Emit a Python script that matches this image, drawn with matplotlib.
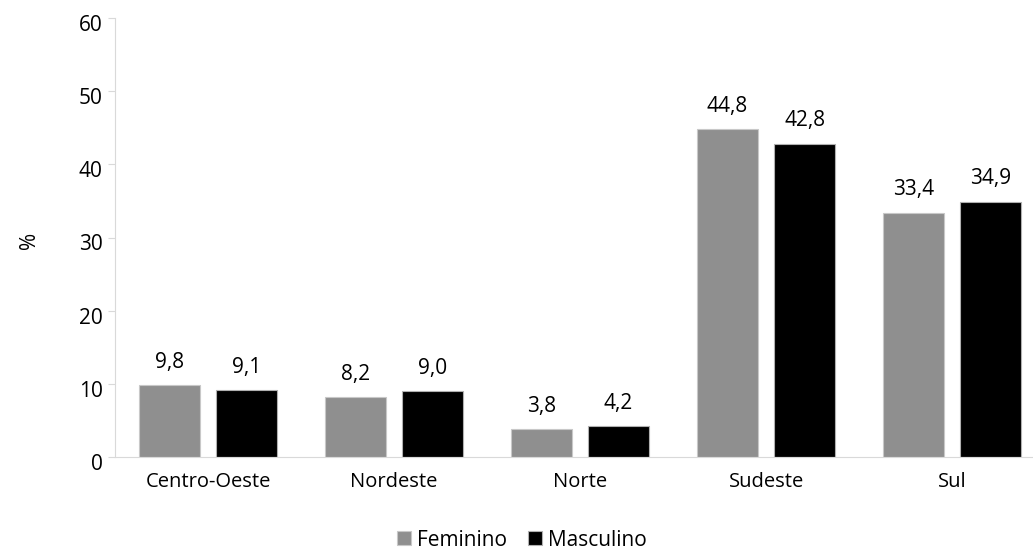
import matplotlib.pyplot as plt
import matplotlib.transforms as mtransforms
import numpy as np

plt.rcParams['font.family'] = ['Open Sans', 'DejaVu Sans']

# data
regioes = ["Centro-Oeste", "Nordeste", "Norte", "Sudeste", "Sul"]
feminino = [9.8, 8.2, 3.8, 44.8, 33.4]
masculino = [9.1, 9.0, 4.2, 42.8, 34.9]

fig = plt.figure(figsize=(10.33, 5.51), dpi=100)
ax = fig.add_axes([115 / 1033, 94 / 551, 918 / 1033, 439 / 551])

x = np.arange(len(regioes))
off = 0.207
w = 0.33
b1 = ax.bar(x - off, feminino, w, color="#8f8f8f", edgecolor="#c8c8c8", linewidth=0.8, label="Feminino")
b2 = ax.bar(x + off, masculino, w, color="black", edgecolor="#b0b0b0", linewidth=0.8, label="Masculino")

# value labels with comma decimal
for bars, vals in [(b1, feminino), (b2, masculino)]:
    for r, v in zip(bars, vals):
        ax.annotate(f"{v:.1f}".replace(".", ","), (r.get_x() + r.get_width() / 2, v),
                    xytext=(0, 9), textcoords="offset points", ha="center", va="bottom", fontsize=15)

ax.set_xlim(-0.5, 4.435)
ax.set_ylim(0, 60)
ax.set_yticks(range(0, 61, 10))
ax.set_xticks(x)
ax.set_xticklabels(regioes)
ax.tick_params(axis="y", length=5, color="#d9d9d9", labelsize=15, pad=4)
ax.tick_params(axis="x", length=0, labelsize=14.5, pad=11)

# y tick labels sit a little below their ticks in the original
shift = mtransforms.ScaledTranslation(0, -5 / 100, fig.dpi_scale_trans)
for lab in ax.get_yticklabels():
    lab.set_transform(lab.get_transform() + shift)

for s in ["top", "right"]:
    ax.spines[s].set_visible(False)
ax.spines["left"].set_color("#d9d9d9")
ax.spines["bottom"].set_color("#d9d9d9")

fig.text(30 / 1033, 1 - 240 / 551, "%", rotation=90, ha="center", va="center", fontsize=15)

fig.legend(handles=[b1, b2], loc="center", bbox_to_anchor=(522 / 1033, 1 - 540 / 551), ncol=2,
           frameon=False, fontsize=15, handlelength=0.65, handleheight=0.65, handletextpad=0.3,
           columnspacing=1.0, borderpad=0.2)

fig.savefig("out.png", dpi=100)
